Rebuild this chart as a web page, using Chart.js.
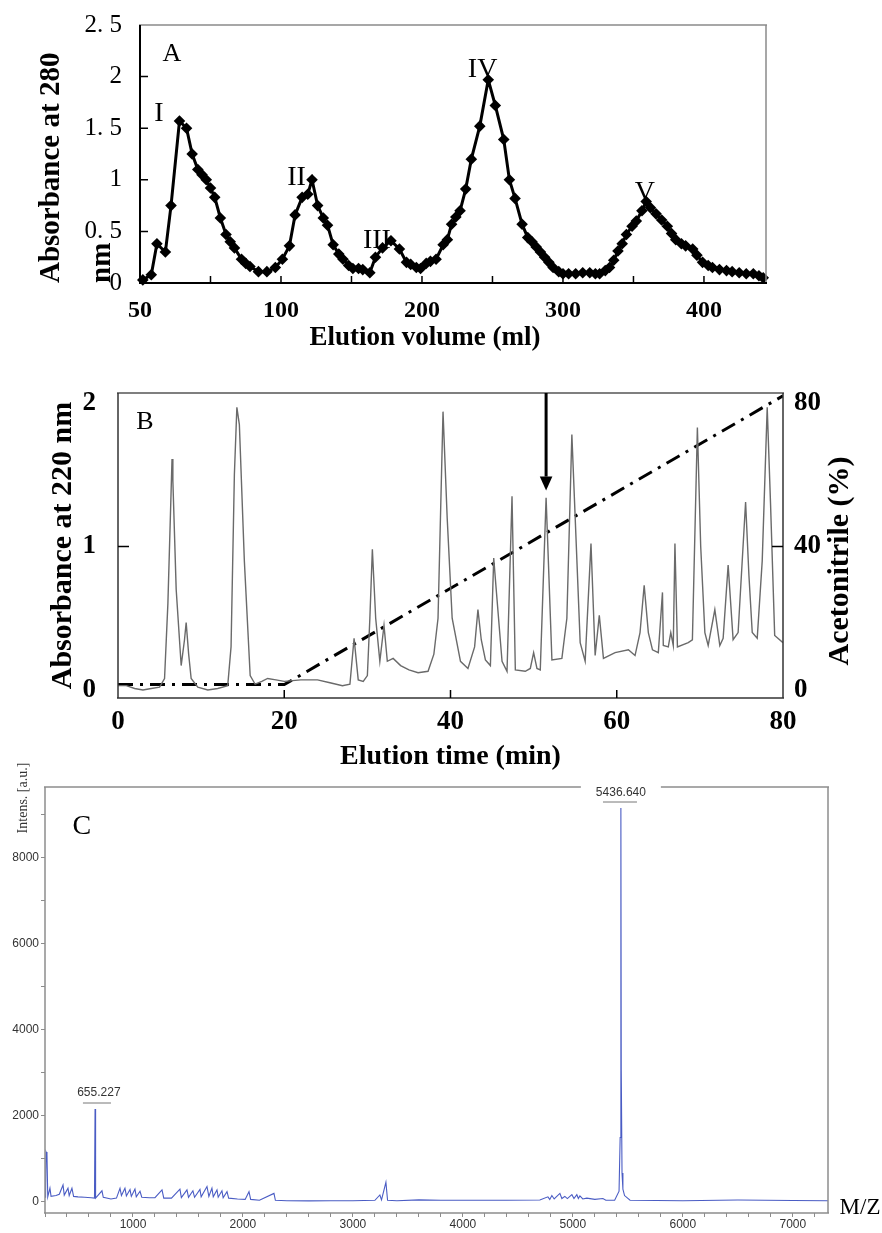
<!DOCTYPE html>
<html>
<head>
<meta charset="utf-8">
<script src="https://cdn.jsdelivr.net/npm/chart.js@4.4.1/dist/chart.umd.min.js"></script>
<style>
  html, body { margin: 0; padding: 0; background: #fff; }
  body { width: 882px; height: 1233px; position: relative; overflow: hidden; }
  .panel { position: absolute; left: 0; }
</style>
</head>
<body>
<div class="panel" style="top:0"><canvas id="chartA" width="882" height="360"></canvas></div>
<div class="panel" style="top:360px"><canvas id="chartB" width="882" height="420"></canvas></div>
<div class="panel" style="top:750px"><canvas id="chartC" width="882" height="483"></canvas></div>
<script>
// ---- Panel A: gel filtration, absorbance at 280 nm ----
const volumeA = [2, 8, 12, 18, 22, 28, 33, 37, 41, 44, 47, 50, 53, 57, 61, 64, 67, 72, 75, 78,
  84, 90, 96, 101, 106, 110, 115, 119, 122, 126, 130, 133, 137, 141, 144, 148, 151, 155, 158, 163,
  167, 172, 178, 184, 189, 192, 196, 199, 203, 206, 210, 215, 218, 221, 224, 227, 231, 235, 241, 247,
  252, 258, 262, 266, 271, 275, 278, 281, 284, 287, 290, 293, 297, 300, 304, 309, 314, 319, 323, 326,
  330, 333, 336, 339, 342, 345, 349, 352, 356, 359, 362, 366, 370, 374, 377, 380, 384, 387, 392, 395,
  399, 403, 406, 411, 416, 420, 425, 430, 435, 439, 442];
const absorbanceA = [0.03, 0.08, 0.38, 0.30, 0.75, 1.57, 1.50, 1.25, 1.10, 1.05, 1.00, 0.92, 0.83, 0.63, 0.47, 0.40, 0.34, 0.23, 0.19, 0.16,
  0.11, 0.11, 0.15, 0.23, 0.36, 0.66, 0.83, 0.86, 1.00, 0.75, 0.63, 0.56, 0.37, 0.28, 0.23, 0.17, 0.14, 0.14, 0.13, 0.10,
  0.25, 0.34, 0.41, 0.33, 0.20, 0.18, 0.15, 0.14, 0.19, 0.21, 0.23, 0.37, 0.42, 0.57, 0.64, 0.70, 0.91, 1.20, 1.52, 1.97,
  1.72, 1.39, 1.00, 0.82, 0.57, 0.44, 0.40, 0.35, 0.30, 0.25, 0.20, 0.15, 0.11, 0.09, 0.09, 0.09, 0.10, 0.10, 0.09, 0.09,
  0.12, 0.15, 0.22, 0.31, 0.38, 0.47, 0.55, 0.60, 0.70, 0.79, 0.73, 0.67, 0.61, 0.55, 0.48, 0.42, 0.38, 0.36, 0.33, 0.27,
  0.20, 0.17, 0.15, 0.13, 0.12, 0.11, 0.10, 0.09, 0.09, 0.07, 0.05];
const xTickValuesA = [0, 100, 200, 300, 400];
const xTickLabelsA = ['50', '100', '200', '300', '400'];
const yTickValuesA = [0, 0.5, 1, 1.5, 2, 2.5];
const yTickLabelsA = ['0', '0. 5', '1', '1. 5', '2', '2. 5'];

// ---- Panel B: RP-HPLC, absorbance at 220 nm + acetonitrile gradient ----
const timeB = [0, 1, 2, 3, 4, 5, 5.6, 6.0, 6.5, 6.6, 7.0, 7.6, 8.0, 8.2, 8.5, 8.8, 9.6, 10.8, 12, 13.2,
  13.6, 14.0, 14.3, 14.6, 15.2, 15.9, 16.5, 17.3, 18, 19, 20, 22, 24, 25.5, 27, 27.9, 28.4, 28.9, 29.5, 30.0,
  30.3, 30.6, 31.0, 31.5, 32.0, 32.4, 33.1, 34, 35, 36.1, 37.3, 38.0, 38.5, 39.1, 39.6, 40.2, 41.2, 42.1, 42.9, 43.3,
  43.7, 44.2, 44.8, 45.2, 45.5, 46.2, 46.8, 47.4, 47.8, 49, 49.6, 50, 50.4, 50.8, 51.5, 52.2, 53.4, 54.0, 54.6, 55.0,
  55.6, 56.2, 56.9, 57.4, 57.9, 58.4, 59.8, 61.4, 62.2, 62.8, 63.3, 63.8, 64.3, 65.0, 65.5, 65.6, 66.2, 66.5, 66.8, 67.0,
  67.3, 68.6, 69.1, 69.7, 70.1, 70.6, 71.0, 71.8, 72.4, 72.8, 73.4, 74.0, 74.6, 75.5, 75.9, 76.3, 76.9, 77.5, 78.1, 78.5,
  79.0, 80];
const absorbanceB = [0.03, 0.03, 0.01, 0.0, 0.01, 0.02, 0.08, 0.6, 1.61, 1.46, 0.7, 0.17, 0.35, 0.47, 0.25, 0.08, 0.02, 0.0, 0.01, 0.03,
  0.3, 1.5, 1.97, 1.85, 0.9, 0.1, 0.04, 0.06, 0.08, 0.07, 0.06, 0.07, 0.07, 0.05, 0.03, 0.04, 0.36, 0.07, 0.06, 0.1,
  0.5, 0.98, 0.5, 0.2, 0.45, 0.2, 0.22, 0.17, 0.14, 0.12, 0.13, 0.25, 0.5, 1.94, 1.2, 0.5, 0.2, 0.15, 0.3, 0.56,
  0.35, 0.21, 0.17, 0.92, 0.7, 0.2, 0.13, 1.35, 0.14, 0.13, 0.15, 0.26, 0.15, 0.14, 1.34, 0.21, 0.22, 0.5, 1.78, 1.2,
  0.33, 0.2, 1.02, 0.24, 0.52, 0.22, 0.26, 0.28, 0.24, 0.4, 0.73, 0.4, 0.28, 0.26, 0.68, 0.31, 0.3, 0.4, 0.31, 1.02,
  0.3, 0.33, 0.35, 1.83, 1.0, 0.4, 0.31, 0.56, 0.31, 0.36, 0.87, 0.35, 0.4, 1.31, 0.8, 0.4, 0.36, 0.9, 1.97, 1.3,
  0.38, 0.33];
const gradientTimeB = [0, 20, 80];
const acetonitrileB = [1.5, 1.5, 82];
const xTickValuesB = [0, 20, 40, 60, 80];
const yTickValuesB = [0, 1, 2];
const y2TickValuesB = [0, 40, 80];
const arrowTimeB = 51.5;

// ---- Panel C: MALDI-TOF spectrum ----
const mzC = [205, 210, 218, 225, 245, 255, 300, 330, 364, 375, 409, 420, 445, 460, 500, 560, 620, 650, 655.227, 660,
  718, 730, 800, 850, 882, 895, 927, 940, 973, 985, 1018, 1030, 1064, 1080, 1150, 1200, 1264, 1280, 1350, 1427,
  1440, 1491, 1505, 1545, 1560, 1609, 1620, 1673, 1690, 1718, 1730, 1764, 1775, 1809, 1820, 1855, 1870, 1950, 2020, 2055,
  2070, 2150, 2282, 2295, 2400, 2600, 2800, 3000, 3200, 3245, 3260, 3300, 3315, 3400, 3600, 3800, 4000, 4400, 4700, 4773,
  4790, 4809, 4830, 4882, 4900, 4927, 4950, 4991, 5010, 5036, 5050, 5064, 5090, 5127, 5200, 5273, 5300, 5380, 5420, 5430,
  5436.64, 5440, 5447, 5455, 5470, 5520, 6000, 6500, 7000, 7320];
const intensityC = [100, 1160, 1100, 120, 320, 130, 150, 180, 395, 160, 320, 150, 320, 130, 120, 110, 100, 90, 2160, 90,
  260, 110, 70, 90, 320, 150, 320, 140, 290, 130, 300, 120, 250, 110, 100, 100, 280, 90, 90, 300,
  100, 280, 110, 260, 110, 290, 120, 360, 130, 320, 120, 280, 110, 260, 100, 240, 90, 70, 60, 240,
  60, 40, 200, 40, 30, 25, 30, 30, 40, 163, 50, 457, 40, 30, 50, 40, 40, 40, 45, 120,
  60, 150, 70, 200, 80, 130, 80, 170, 80, 170, 80, 140, 70, 90, 60, 80, 40, 40, 250, 1500,
  9163, 3070, 674, 300, 150, 40, 30, 45, 35, 30];
const xLabelValuesC = [1000, 2000, 3000, 4000, 5000, 6000, 7000];
const yLabelValuesC = [0, 2000, 4000, 6000, 8000];

const SERIF = '"Liberation Serif", "Times New Roman", serif';
const SANS = '"Liberation Sans", Arial, sans-serif';

function serif(size, weight) {
    return { family: SERIF, size: size, weight: weight || 'normal' };
}

function points(xs, ys) {
    return xs.map(function (x, i) { return { x: x, y: ys[i] }; });
}

function fixTicks(values) {
    return function (scale) {
        scale.ticks = values.map(function (v) { return { value: v }; });
    };
}

// Frame, inner tick marks, annotation lines and texts
const decor = {
    id: 'decor',
    afterDraw(chart, args, opts) {
        const ctx = chart.ctx;
        const area = chart.chartArea;
        ctx.save();

        const f = opts.frame;
        if (f) {
            const side = function (s, x1, y1, x2, y2) {
                if (!s) return;
                ctx.beginPath();
                ctx.strokeStyle = s.color;
                ctx.lineWidth = s.width;
                ctx.moveTo(x1, y1);
                ctx.lineTo(x2, y2);
                ctx.stroke();
            };
            side(f.top, area.left - 1, area.top, area.right + 1, area.top);
            side(f.right, area.right, area.top, area.right, area.bottom);
            side(f.bottom, area.left - 1, area.bottom, area.right + 1, area.bottom);
            side(f.left, area.left, area.top, area.left, area.bottom);
        }

        (opts.marks || []).forEach(function (m) {
            const sc = chart.scales[m.scale];
            ctx.beginPath();
            ctx.strokeStyle = m.color || '#000';
            ctx.lineWidth = m.width || 1.5;
            m.values.forEach(function (v) {
                const p = sc.getPixelForValue(v);
                if (m.side === 'bottom') { ctx.moveTo(p, area.bottom); ctx.lineTo(p, area.bottom - m.len); }
                else if (m.side === 'left') { ctx.moveTo(area.left, p); ctx.lineTo(area.left + m.len, p); }
                else { ctx.moveTo(area.right, p); ctx.lineTo(area.right - m.len, p); }
            });
            ctx.stroke();
        });

        (opts.lines || []).forEach(function (l) {
            const xs = chart.scales[l.xScale || 'x'];
            const ys = chart.scales[l.yScale || 'y'];
            const x1 = xs.getPixelForValue(l.x1), y1 = ys.getPixelForValue(l.y1);
            const x2 = xs.getPixelForValue(l.x2), y2 = ys.getPixelForValue(l.y2);
            ctx.beginPath();
            ctx.strokeStyle = l.color;
            ctx.lineWidth = l.width;
            ctx.moveTo(x1, y1);
            ctx.lineTo(x2, l.arrow ? y2 - l.arrow : y2);
            ctx.stroke();
            if (l.arrow) {
                ctx.beginPath();
                ctx.fillStyle = l.color;
                ctx.moveTo(x2, y2);
                ctx.lineTo(x2 - l.arrow * 0.45, y2 - l.arrow);
                ctx.lineTo(x2 + l.arrow * 0.45, y2 - l.arrow);
                ctx.closePath();
                ctx.fill();
            }
        });

        (opts.texts || []).forEach(function (t) {
            let x = t.px, y = t.py;
            if (x === undefined) x = chart.scales[t.xScale || 'x'].getPixelForValue(t.x);
            if (y === undefined) y = chart.scales[t.yScale || 'y'].getPixelForValue(t.y);
            if (t.clearTop) {
                ctx.fillStyle = '#fff';
                ctx.fillRect(x - t.clearTop, area.top - 3, 2 * t.clearTop, 6);
            }
            ctx.save();
            ctx.translate(x, y);
            if (t.rotate) ctx.rotate(t.rotate);
            ctx.font = t.font;
            ctx.fillStyle = t.color || '#000';
            ctx.textAlign = 'center';
            ctx.textBaseline = 'middle';
            ctx.fillText(t.text, 0, 0);
            ctx.restore();
        });

        ctx.restore();
    }
};
Chart.register(decor);

// ---------- Chart A ----------
new Chart(document.getElementById('chartA'), {
    type: 'line',
    data: {
        datasets: [{
            data: points(volumeA, absorbanceA),
            borderColor: '#000',
            borderWidth: 3,
            pointStyle: 'rectRot',
            pointRadius: 5.8,
            pointBackgroundColor: '#000',
            pointBorderWidth: 0,
            tension: 0,
            clip: false
        }]
    },
    options: {
        responsive: false,
        animation: false,
        layout: { padding: { left: 0, right: 116, top: 23, bottom: 0 } },
        plugins: {
            legend: { display: false },
            tooltip: { enabled: false },
            decor: {
                frame: {
                    top: { color: '#8a8a8a', width: 1.5 },
                    right: { color: '#8a8a8a', width: 1.5 },
                    bottom: { color: '#000', width: 2 },
                    left: { color: '#000', width: 2 }
                },
                marks: [
                    { scale: 'x', side: 'bottom', len: 7, values: [50, 100, 150, 200, 250, 300, 350, 400] },
                    { scale: 'y', side: 'left', len: 8, values: [0.5, 1, 1.5, 2] }
                ],
                texts: [
                    { text: 'A', x: 22.7, y: 2.22, font: '26px ' + SERIF },
                    { text: 'I', x: 13.5, y: 1.64, font: '28px ' + SERIF },
                    { text: 'II', x: 111, y: 1.02, font: '28px ' + SERIF },
                    { text: 'III', x: 168, y: 0.41, font: '28px ' + SERIF },
                    { text: 'IV', x: 243, y: 2.07, font: '28px ' + SERIF },
                    { text: 'V', x: 358, y: 0.875, font: '28px ' + SERIF },
                    { text: 'Elution volume (ml)', px: 425, py: 338, font: 'bold 27px ' + SERIF }
                ]
            }
        },
        scales: {
            x: {
                type: 'linear',
                min: 0,
                max: 444,
                afterFit: function (s) { s.height = 77; },
                afterBuildTicks: fixTicks(xTickValuesA),
                grid: { display: false },
                border: { display: false },
                ticks: {
                    padding: 5,
                    color: '#000',
                    autoSkip: false,
                    maxRotation: 0,
                    font: serif(24, 'bold'),
                    callback: function (v) { return xTickLabelsA[xTickValuesA.indexOf(v)]; }
                }
            },
            y: {
                min: 0,
                max: 2.5,
                afterFit: function (s) { s.width = 140; },
                afterBuildTicks: fixTicks(yTickValuesA),
                grid: { display: false },
                border: { display: false },
                ticks: {
                    padding: 10,
                    color: '#000',
                    font: serif(25),
                    callback: function (v) { return yTickLabelsA[yTickValuesA.indexOf(v)]; }
                },
                title: {
                    display: true,
                    text: ['Absorbance at 280', 'nm'],
                    align: 'start',
                    color: '#000',
                    font: { family: SERIF, size: 29, weight: 'bold', lineHeight: 1.76 },
                    padding: { top: 26, bottom: 0 }
                }
            }
        }
    }
});

// ---------- Chart B ----------
new Chart(document.getElementById('chartB'), {
    type: 'line',
    data: {
        datasets: [{
            data: points(timeB, absorbanceB),
            yAxisID: 'y',
            borderColor: '#6a6a6a',
            borderWidth: 1.4,
            pointRadius: 0,
            tension: 0
        }, {
            data: points(gradientTimeB, acetonitrileB),
            yAxisID: 'y2',
            borderColor: '#000',
            borderWidth: 3,
            borderDash: [15, 7, 3, 7],
            pointRadius: 0,
            tension: 0
        }]
    },
    options: {
        responsive: false,
        animation: false,
        layout: { padding: { left: 0, right: 0, top: 33, bottom: 0 } },
        plugins: {
            legend: { display: false },
            tooltip: { enabled: false },
            decor: {
                frame: {
                    top: { color: '#555', width: 1.5 },
                    right: { color: '#333', width: 1.5 },
                    bottom: { color: '#333', width: 1.5 },
                    left: { color: '#333', width: 1.5 }
                },
                marks: [
                    { scale: 'x', side: 'bottom', len: 8, values: [20, 40, 60] },
                    { scale: 'y', side: 'left', len: 11, values: [1] },
                    { scale: 'y2', side: 'right', len: 11, values: [40] }
                ],
                lines: [
                    { x1: arrowTimeB, y1: 2.07, x2: arrowTimeB, y2: 1.39, color: '#000', width: 3, arrow: 14 }
                ],
                texts: [
                    { text: 'B', x: 3.25, y: 1.87, font: '26px ' + SERIF },
                    { text: 'Acetonitrile (%)', px: 840, py: 201, rotate: -Math.PI / 2, font: 'bold 30px ' + SERIF }
                ]
            }
        },
        scales: {
            x: {
                type: 'linear',
                min: 0,
                max: 80,
                afterFit: function (s) { s.height = 82; },
                afterBuildTicks: fixTicks(xTickValuesB),
                grid: { display: false },
                border: { display: false },
                ticks: { padding: 0, color: '#000', maxRotation: 0, autoSkip: false, font: serif(27, 'bold') },
                title: {
                    display: true,
                    text: 'Elution time (min)',
                    color: '#000',
                    font: serif(28, 'bold'),
                    padding: { top: 0, bottom: 6 }
                }
            },
            y: {
                min: -0.056,
                max: 2.07,
                afterFit: function (s) { s.width = 118; },
                afterBuildTicks: fixTicks(yTickValuesB),
                grid: { display: false },
                border: { display: false },
                ticks: { padding: 14, color: '#000', font: serif(27, 'bold') },
                title: {
                    display: true,
                    text: 'Absorbance at 220 nm',
                    color: '#000',
                    font: serif(30, 'bold'),
                    padding: { top: 45, bottom: 0 }
                }
            },
            y2: {
                position: 'right',
                min: -2.24,
                max: 82.8,
                afterFit: function (s) { s.width = 99; },
                afterBuildTicks: fixTicks(y2TickValuesB),
                grid: { display: false },
                border: { display: false },
                ticks: { padding: 3, color: '#000', font: serif(27, 'bold') }
            }
        }
    }
});

// ---------- Chart C ----------
const minorX = [];
for (let v = 200; v <= 7200; v += 200) minorX.push(v);
const minorY = [];
for (let v = 0; v <= 9000; v += 1000) minorY.push(v);

new Chart(document.getElementById('chartC'), {
    type: 'line',
    data: {
        datasets: [{
            data: points(mzC, intensityC),
            borderColor: '#4a5cc4',
            borderWidth: 1.1,
            pointRadius: 0,
            tension: 0
        }]
    },
    options: {
        responsive: false,
        animation: false,
        layout: { padding: { left: 0, right: 54, top: 37, bottom: 0 } },
        plugins: {
            legend: { display: false },
            tooltip: { enabled: false },
            decor: {
                frame: {
                    top: { color: '#8c8c8c', width: 1.5 },
                    right: { color: '#8c8c8c', width: 1.5 },
                    bottom: { color: '#8c8c8c', width: 1.5 },
                    left: { color: '#8c8c8c', width: 1.5 }
                },
                lines: [
                    { x1: 5274, y1: 9302, x2: 5583, y2: 9302, color: '#777', width: 1 },
                    { x1: 545, y1: 2302, x2: 800, y2: 2302, color: '#777', width: 1 }
                ],
                texts: [
                    { text: '5436.640', x: 5436.64, y: 9512, clearTop: 40, font: '12px ' + SANS, color: '#333' },
                    { text: '655.227', x: 690, y: 2535, font: '12px ' + SANS, color: '#333' },
                    { text: 'C', x: 536, y: 8721, font: '28px ' + SERIF },
                    { text: 'Intens. [a.u.]', px: 23, py: 48, rotate: -Math.PI / 2, font: '14px ' + SERIF, color: '#333' },
                    { text: 'M/Z', px: 860, py: 458, font: '23px ' + SERIF }
                ]
            }
        },
        scales: {
            x: {
                type: 'linear',
                min: 200,
                max: 7320,
                afterFit: function (s) { s.height = 20; },
                afterBuildTicks: fixTicks(minorX),
                grid: { display: true, drawOnChartArea: false, drawTicks: true, tickLength: 4, color: '#8c8c8c' },
                border: { display: false },
                ticks: {
                    padding: 0,
                    color: '#333',
                    maxRotation: 0,
                    autoSkip: false,
                    font: { family: SANS, size: 12 },
                    callback: function (v) { return xLabelValuesC.indexOf(v) >= 0 ? String(v) : ''; }
                }
            },
            y: {
                min: -256,
                max: 9651,
                afterFit: function (s) { s.width = 45; },
                afterBuildTicks: fixTicks(minorY),
                grid: { display: true, drawOnChartArea: false, drawTicks: true, tickLength: 4, color: '#8c8c8c' },
                border: { display: false },
                ticks: {
                    padding: 2,
                    color: '#333',
                    font: { family: SANS, size: 12 },
                    callback: function (v) { return yLabelValuesC.indexOf(v) >= 0 ? String(v) : ''; }
                }
            }
        }
    }
});
</script>
</body>
</html>
